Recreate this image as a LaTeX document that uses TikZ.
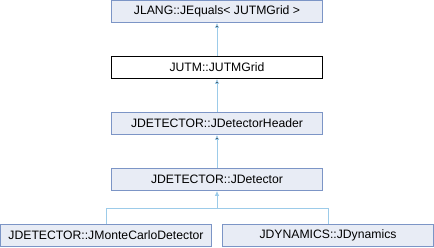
\documentclass[tikz,border=0pt]{standalone}
\usepackage{fontspec}
\setmainfont{Liberation Sans}
\usepackage{tikz}
\usetikzlibrary{arrows.meta, positioning}

\definecolor{boxfill}{HTML}{E8ECF5}
\definecolor{boxline}{HTML}{7C95C6}
\definecolor{inhline}{HTML}{9CCBE9}

\tikzset{
  cls/.style={draw=boxline, fill=boxfill, line width=0.8pt, minimum width=211pt,
    minimum height=22pt, inner sep=0pt, font=\fontsize{12.2}{14}\selectfont},
  cur/.style={cls, draw=black, fill=white},
  inh/.style={draw=inhline, line width=0.8pt, -{Latex[length=5pt, width=4.5pt]}}
}

\begin{document}
\begin{tikzpicture}[x=1pt, y=-1pt, node distance=56pt, on grid]
    \useasboundingbox (0,0) rectangle (434,248);

    \node[cls] (equals) at (217,11.5) {JLANG::JEquals< JUTMGrid >};
    \node[cur] (grid) [below=of equals] {JUTM::JUTMGrid};
    \node[cls] (header) [below=of grid] {JDETECTOR::JDetectorHeader};
    \node[cls] (detector) [below=of header] {JDETECTOR::JDetector};
    \node[cls] (montecarlo) at (106,235.5) {JDETECTOR::JMonteCarloDetector};
    \node[cls] (dynamics) at (328,235.5) {JDYNAMICS::JDynamics};
    \coordinate (fork) at (217,208);

    \path[inh]
    (grid) edge (equals)
    (header) edge (grid)
    (detector) edge (header);
    \draw[inh] (montecarlo.north) |- (fork) -- (detector);
    \draw[draw=inhline, line width=0.8pt] (dynamics.north) |- (fork);
\end{tikzpicture}
\end{document}
